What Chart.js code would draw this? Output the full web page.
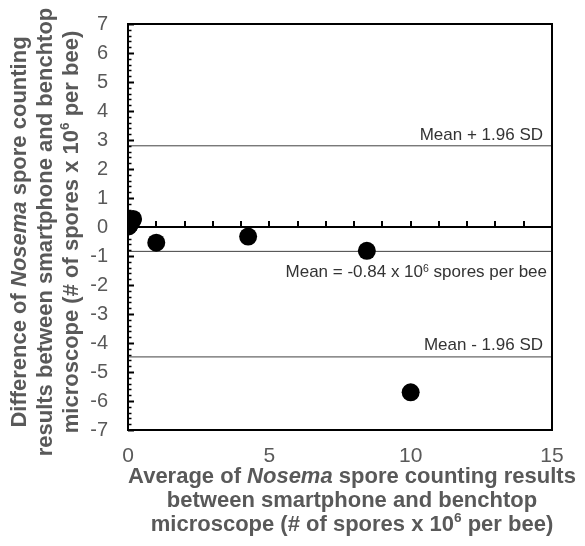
<!DOCTYPE html>
<html>
<head>
<meta charset="utf-8">
<script src="https://cdn.jsdelivr.net/npm/chart.js@4.4.1/dist/chart.umd.min.js"></script>
<style>
html, body { margin: 0; padding: 0; background: #fff; }
#wrap { width: 585px; height: 546px; }
</style>
</head>
<body>
<div id="wrap"><canvas id="chart" width="585" height="546"></canvas></div>
<script>
// Bland-Altman data (x = average, y = difference), x 10^6 spores per bee
const avgValues = [0.02, 0.08, 0.15, 0.18, 1.0, 4.25, 8.45, 10.0];
const diffValues = [0.02, 0.1, 0.22, 0.28, -0.54, -0.33, -0.82, -5.7];
const meanDiff = -0.84;
const upperLimit = 2.8;
const lowerLimit = -4.48;
const xRange = [0, 15];
const yRange = [-7, 7];

const FONT = '"Liberation Sans", Arial, sans-serif';
const GREY = '#595959';

function hline(y) {
  return xRange.map(x => ({ x, y }));
}

// draws a line made of pieces with their own font, sup = superscript
function drawRich(ctx, parts, x, y, align) {
  let total = 0;
  parts.forEach(p => {
    ctx.font = (p.style || '') + ' ' + (p.sup ? p.size * 0.62 : p.size) + 'px ' + FONT;
    p.w = ctx.measureText(p.t).width;
    total += p.w;
  });
  let cx = align === 'center' ? x - total / 2 : align === 'right' ? x - total : x;
  parts.forEach(p => {
    ctx.font = (p.style || '') + ' ' + (p.sup ? p.size * 0.62 : p.size) + 'px ' + FONT;
    ctx.fillText(p.t, cx, p.sup ? y - p.size * 0.3 : y);
    cx += p.w;
  });
}

const T = 22;
const xTitle = [
  [{ t: 'Average of ', style: 'bold', size: T }, { t: 'Nosema', style: 'italic bold', size: T }, { t: ' spore counting results', style: 'bold', size: T }],
  [{ t: 'between smartphone and benchtop', style: 'bold', size: T }],
  [{ t: 'microscope (# of spores x 10', style: 'bold', size: T }, { t: '6', style: 'bold', size: T, sup: true }, { t: ' per bee)', style: 'bold', size: T }]
];
const yTitle = [
  [{ t: 'Difference of ', style: 'bold', size: T }, { t: 'Nosema', style: 'italic bold', size: T }, { t: ' spore counting', style: 'bold', size: T }],
  [{ t: 'results between smartphone and benchtop', style: 'bold', size: T }],
  [{ t: 'microscope (# of spores x 10', style: 'bold', size: T }, { t: '6', style: 'bold', size: T, sup: true }, { t: ' per bee)', style: 'bold', size: T }]
];

const decor = {
  id: 'decor',
  beforeDatasetsDraw(chart) {
    const { ctx, chartArea: a, scales: { x, y } } = chart;
    const y0 = y.getPixelForValue(0);
    ctx.save();
    ctx.strokeStyle = '#000';
    ctx.lineWidth = 2;
    ctx.beginPath();
    ctx.moveTo(a.left, y0);
    ctx.lineTo(a.right, y0);
    ctx.stroke();
    // ticks on the zero axis
    for (let v = xRange[0] + 1; v < xRange[1]; v++) {
      const px = Math.round(x.getPixelForValue(v));
      ctx.beginPath();
      ctx.moveTo(px, y0);
      ctx.lineTo(px, y0 - 6);
      ctx.stroke();
    }
    ctx.restore();
  },
  afterDraw(chart) {
    const { ctx, chartArea: a, scales: { x, y } } = chart;
    ctx.save();
    // inner ticks on the y axis
    ctx.strokeStyle = '#000';
    for (let i = 0; i <= (yRange[1] - yRange[0]) * 5; i++) {
      const v = yRange[0] + i * 0.2;
      const py = Math.round(y.getPixelForValue(v)) + 0.5;
      const major = i % 5 === 0;
      ctx.lineWidth = major ? 2 : 1.5;
      ctx.beginPath();
      ctx.moveTo(a.left, py);
      ctx.lineTo(a.left + (major ? 6 : 3.5), py);
      ctx.stroke();
    }
    // frame
    ctx.lineWidth = 2;
    ctx.strokeRect(a.left, a.top, a.right - a.left, a.bottom - a.top);

    // reference line labels
    ctx.fillStyle = '#333';
    ctx.textBaseline = 'alphabetic';
    const s = 17;
    drawRich(ctx, [{ t: 'Mean + 1.96 SD', size: s }], a.right - 9, y.getPixelForValue(upperLimit) - 6, 'right');
    drawRich(ctx, [{ t: 'Mean = ' + meanDiff.toFixed(2) + ' x 10', size: s }, { t: '6', size: s, sup: true }, { t: ' spores per bee', size: s }],
      a.right - 5, y.getPixelForValue(meanDiff) + 26, 'right');
    drawRich(ctx, [{ t: 'Mean - 1.96 SD', size: s }], a.right - 9, y.getPixelForValue(lowerLimit) - 7, 'right');

    // axis titles
    ctx.fillStyle = GREY;
    ctx.textBaseline = 'middle';
    xTitle.forEach((line, i) => drawRich(ctx, line, 352, 477 + i * 24, 'center'));
    ctx.translate(0, 232);
    ctx.rotate(-Math.PI / 2);
    yTitle.forEach((line, i) => drawRich(ctx, line, 0, 20 + i * 26, 'center'));
    ctx.restore();
  }
};

new Chart(document.getElementById('chart'), {
  data: {
    datasets: [
      { type: 'scatter', data: avgValues.map((v, i) => ({ x: v, y: diffValues[i] })), pointRadius: 9, pointBackgroundColor: '#000', pointBorderWidth: 0, order: 0 },
      { type: 'line', data: hline(upperLimit), borderColor: '#404040', borderWidth: 1, pointRadius: 0, order: 1 },
      { type: 'line', data: hline(meanDiff), borderColor: '#404040', borderWidth: 1, pointRadius: 0, order: 1 },
      { type: 'line', data: hline(lowerLimit), borderColor: '#404040', borderWidth: 1, pointRadius: 0, order: 1 }
    ]
  },
  options: {
    responsive: false,
    animation: false,
    layout: { padding: { top: 24, right: 33, left: 0, bottom: 0 } },
    plugins: { legend: { display: false }, tooltip: { enabled: false } },
    scales: {
      x: {
        type: 'linear', min: xRange[0], max: xRange[1],
        grid: { display: false, drawTicks: false }, border: { display: false },
        ticks: { stepSize: 5, color: GREY, padding: 14, font: { family: FONT, size: 21 } },
        afterFit(scale) { scale.height = 116; scale.paddingLeft = 0; scale.paddingRight = 0; }
      },
      y: {
        type: 'linear', min: yRange[0], max: yRange[1],
        grid: { display: false, drawTicks: false }, border: { display: false },
        ticks: { stepSize: 1, color: GREY, padding: 20, font: { family: FONT, size: 20 } },
        afterFit(scale) { scale.width = 128; scale.paddingTop = 0; scale.paddingBottom = 0; }
      }
    }
  },
  plugins: [decor]
});
</script>
</body>
</html>
